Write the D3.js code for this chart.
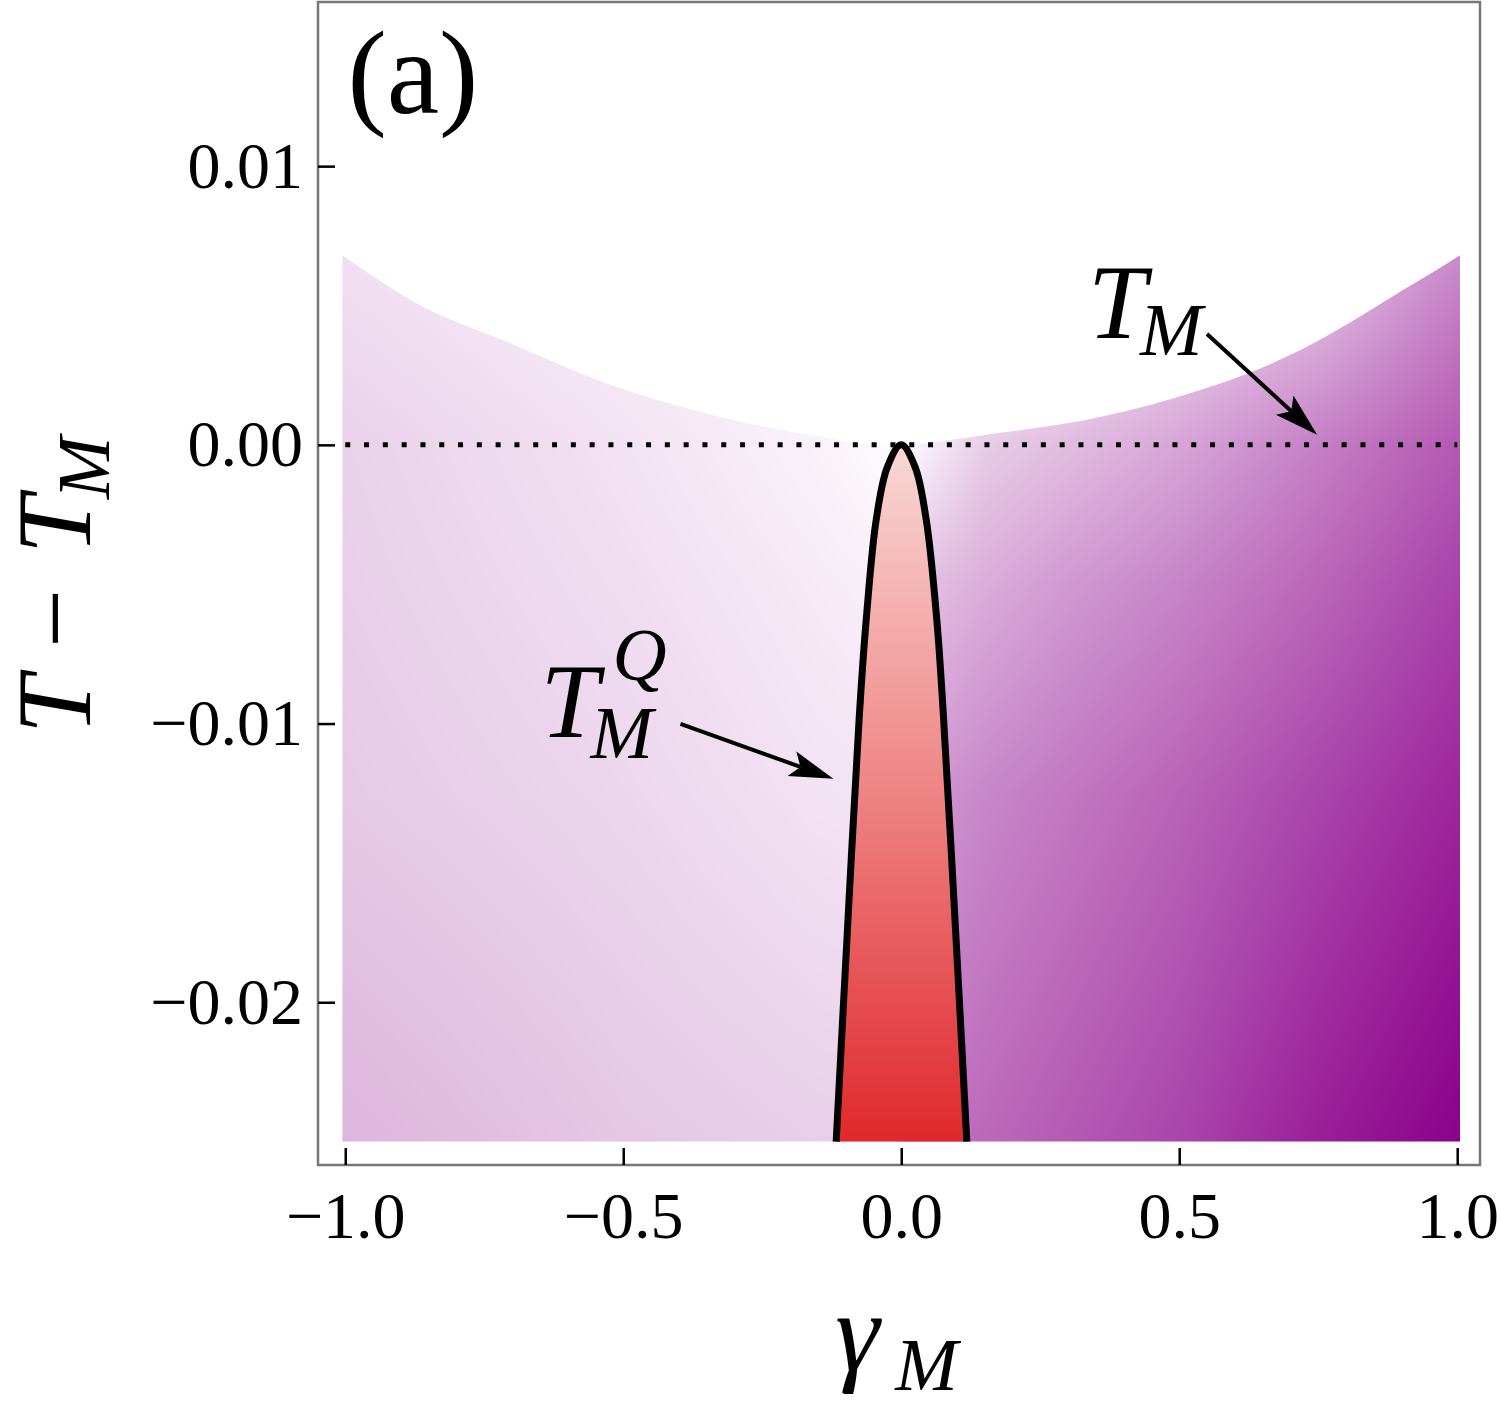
<!DOCTYPE html>
<html>
<head>
<meta charset="utf-8">
<script src="https://cdn.jsdelivr.net/npm/d3@7"></script>
<style>
body { margin: 0; background: #fff; }
svg { display: block; }
text { font-family: "Liberation Serif", "Times New Roman", serif; fill: #000; }
</style>
</head>
<body>
<svg id="chart" width="1500" height="1402"></svg>
<script>
const xTicks = [-1, -0.5, 0, 0.5, 1];
const yTicks = [0.01, 0, -0.01, -0.02];

// upper edge of the shaded region (the T_M curve)
const edgeX = [-1.005, -0.876, -0.705, -0.532, -0.36, -0.189, -0.016, 0.178, 0.358, 0.538, 0.628, 0.718, 0.808, 0.898, 0.957, 1.005];
const edgeT = [0.0068, 0.00513, 0.00366, 0.00222, 0.00118, 0.00043, 0.0, 0.00043, 0.001, 0.00197, 0.0026, 0.0034, 0.0044, 0.0055, 0.0062, 0.0068];
const floorT = -0.025;

// T_M^Q contour
const qX = [-0.117, -0.097, -0.0755, -0.063, -0.045, -0.025, 0, 0.025, 0.045, 0.064, 0.076, 0.098, 0.118];
const qT = [-0.025, -0.0175, -0.00976, -0.00628, -0.00269, -0.0008, 0, -0.0008, -0.00269, -0.00628, -0.00976, -0.0175, -0.025];

// colour level of the density plot, read at grid nodes (rows go up in T)
const gridX = [-1, -0.5, -0.15, -0.01, 0.01, 0.15, 0.3, 0.5, 0.75, 1];
const gridT = [-0.025, -0.0125, -0.005, 0, 0.0035, 0.007];
const levelLow  = [0.29, 0.22, 0.19, 0.18, 0.52, 0.59, 0.65, 0.73, 0.88, 1.0];
const levelMid  = [0.21, 0.16, 0.11, 0.10, 0.38, 0.47, 0.53, 0.61, 0.73, 0.85];
const levelNear = [0.19, 0.13, 0.08, 0.06, 0.22, 0.32, 0.40, 0.48, 0.60, 0.74];
const levelZero = [0.18, 0.11, 0.05, 0.01, 0.02, 0.20, 0.26, 0.35, 0.50, 0.65];
const levelUp   = [0.15, 0.08, 0.03, 0.00, 0.00, 0.09, 0.13, 0.22, 0.34, 0.55];
const levelTop  = [0.12, 0.06, 0.01, 0.00, 0.00, 0.00, 0.00, 0.10, 0.20, 0.45];
const gridLevel = [levelLow, levelMid, levelNear, levelZero, levelUp, levelTop];

const svg = d3.select("#chart");
const font = '"Liberation Serif", "Times New Roman", serif';

const x = d3.scaleLinear().domain([-1.049, 1.041]).range([318, 1480]);
const y = d3.scaleLinear().domain([-0.02584, 0.01589]).range([1165, 2]);

const colour = d3.scaleLinear().domain([0, 1]).range(["#ffffff", "#8b008b"]).clamp(true);

function levelAt(gx, gt) {
    let i = Math.max(0, Math.min(gridX.length - 2, d3.bisectRight(gridX, gx) - 1));
    let j = Math.max(0, Math.min(gridT.length - 2, d3.bisectRight(gridT, gt) - 1));
    let fx = Math.max(0, Math.min(1, (gx - gridX[i]) / (gridX[i + 1] - gridX[i])));
    let ft = Math.max(0, Math.min(1, (gt - gridT[j]) / (gridT[j + 1] - gridT[j])));
    let a = gridLevel[j][i], b = gridLevel[j][i + 1];
    let c = gridLevel[j + 1][i], d = gridLevel[j + 1][i + 1];
    return (a * (1 - fx) + b * fx) * (1 - ft) + (c * (1 - fx) + d * fx) * ft;
}

// density image
let x0 = Math.floor(x(-1.01)), x1 = Math.ceil(x(1.01));
let y0 = Math.floor(y(0.0075)), y1 = Math.ceil(y(-0.0252));
let cw = x1 - x0, ch = y1 - y0;
let canvas = document.createElement("canvas");
canvas.width = cw;
canvas.height = ch;
let ctx = canvas.getContext("2d");
let img = ctx.createImageData(cw, ch);
for (let r = 0; r < ch; r++) {
    let t = y.invert(y0 + r + 0.5);
    for (let k = 0; k < cw; k++) {
        let c = d3.rgb(colour(levelAt(x.invert(x0 + k + 0.5), t)));
        let p = (r * cw + k) * 4;
        img.data[p] = c.r;
        img.data[p + 1] = c.g;
        img.data[p + 2] = c.b;
        img.data[p + 3] = 255;
    }
}
ctx.putImageData(img, 0, 0);

let edge = edgeX.map((v, i) => ({x: v, t: edgeT[i]}));
let region = d3.area()
    .x(d => x(d.x))
    .y0(y(floorT))
    .y1(d => y(d.t))
    .curve(d3.curveMonotoneX);

let defs = svg.append("defs");
defs.append("clipPath").attr("id", "region")
    .append("path").attr("d", region(edge));

let grad = defs.append("linearGradient")
    .attr("id", "red")
    .attr("gradientUnits", "userSpaceOnUse")
    .attr("x1", 0).attr("x2", 0)
    .attr("y1", y(0)).attr("y2", y(floorT));
grad.append("stop").attr("offset", 0).attr("stop-color", "#f9d8d4");
grad.append("stop").attr("offset", 0.5).attr("stop-color", "#ee8484");
grad.append("stop").attr("offset", 1).attr("stop-color", "#e0282c");

svg.append("image")
    .attr("x", x0).attr("y", y0)
    .attr("width", cw).attr("height", ch)
    .attr("preserveAspectRatio", "none")
    .attr("href", canvas.toDataURL())
    .attr("clip-path", "url(#region)");

// T_M^Q region
let q = qX.map((v, i) => ({x: v, t: qT[i]}));
let qLine = d3.line()
    .x(d => x(d.x))
    .y(d => y(d.t))
    .curve(d3.curveCatmullRom);

svg.append("path")
    .attr("d", qLine(q) + "Z")
    .attr("fill", "url(#red)");

// dotted T = T_M line
svg.append("line")
    .attr("x1", x(-1)).attr("x2", x(1))
    .attr("y1", y(0)).attr("y2", y(0))
    .attr("stroke", "#000")
    .attr("stroke-width", 5)
    .attr("stroke-dasharray", "5 13.8");

svg.append("path")
    .attr("d", qLine(q))
    .attr("fill", "none")
    .attr("stroke", "#000")
    .attr("stroke-width", 7);

// frame
svg.append("rect")
    .attr("x", x.range()[0]).attr("y", y.range()[1])
    .attr("width", x.range()[1] - x.range()[0])
    .attr("height", y.range()[0] - y.range()[1])
    .attr("fill", "none")
    .attr("stroke", "#777")
    .attr("stroke-width", 2.5);

// x axis
svg.append("g")
    .attr("transform", `translate(0,${y.range()[0]})`)
    .call(d3.axisBottom(x).tickValues(xTicks).tickFormat(d3.format(".1f"))
        .tickSizeInner(-17).tickSizeOuter(0).tickPadding(26))
    .call(g => g.select(".domain").remove())
    .call(g => g.selectAll(".tick line").attr("stroke", "#000").attr("stroke-width", 2.5))
    .call(g => g.selectAll(".tick text")
        .style("font-family", font).style("font-size", "66px").attr("fill", "#000"));

// y axis
svg.append("g")
    .attr("transform", `translate(${x.range()[0]},0)`)
    .call(d3.axisLeft(y).tickValues(yTicks).tickFormat(d3.format(".2f"))
        .tickSizeInner(-17).tickSizeOuter(0).tickPadding(15))
    .call(g => g.select(".domain").remove())
    .call(g => g.selectAll(".tick line").attr("stroke", "#000").attr("stroke-width", 2.5))
    .call(g => g.selectAll(".tick text")
        .style("font-family", font).style("font-size", "66px").attr("fill", "#000"));

// arrows
function arrow(from, to) {
    let ax = x(from[0]), ay = y(from[1]);
    let bx = x(to[0]), by = y(to[1]);
    let len = Math.hypot(bx - ax, by - ay);
    let ux = (bx - ax) / len, uy = (by - ay) / len;
    let nx = -uy, ny = ux;
    let L = 44, w = 13, notch = 9;
    svg.append("line")
        .attr("x1", ax).attr("y1", ay)
        .attr("x2", bx - ux * (L - notch)).attr("y2", by - uy * (L - notch))
        .attr("stroke", "#000").attr("stroke-width", 4);
    let pts = [
        [bx, by],
        [bx - ux * L + nx * w, by - uy * L + ny * w],
        [bx - ux * (L - notch), by - uy * (L - notch)],
        [bx - ux * L - nx * w, by - uy * L - ny * w]
    ];
    svg.append("path").attr("d", "M" + pts.join("L") + "Z").attr("fill", "#000");
}
arrow([0.550, 0.00398], [0.748, 0.00036]);
arrow([-0.397, -0.01001], [-0.122, -0.01198]);

// labels
function label(px, py, str, size, italic) {
    svg.append("text")
        .attr("x", px).attr("y", py)
        .style("font-size", size + "px")
        .style("font-style", italic ? "italic" : "normal")
        .text(str);
}
label(x(-0.996), y(0.01191), "(a)", 118, false);

let tmx = x(0.336), tmy = y(0.00384);
label(tmx, tmy, "T", 105, true);
label(tmx + 52, tmy + 17, "M", 75, true);

let tqx = x(-0.649), tqy = y(-0.01048);
label(tqx, tqy, "T", 105, true);
label(tqx + 72, tqy - 57, "Q", 75, true);
label(tqx + 50, tqy + 21, "M", 75, true);

// axis titles
let gx = x(0) - 66, gy = 1370;
label(gx, gy, "\u03b3", 112, true);
label(gx + 60, gy + 20, "M", 75, true);

let yl = svg.append("g").attr("transform", "translate(90,0) rotate(-90)");
yl.append("text").attr("x", -734).attr("y", 0).style("font-size", "105px").style("font-style", "italic").text("T");
yl.append("text").attr("x", -648).attr("y", 0).style("font-size", "105px").text("\u2212");
yl.append("text").attr("x", -554).attr("y", 0).style("font-size", "105px").style("font-style", "italic").text("T");
yl.append("text").attr("x", -499).attr("y", 19).style("font-size", "75px").style("font-style", "italic").text("M");
</script>
</body>
</html>
